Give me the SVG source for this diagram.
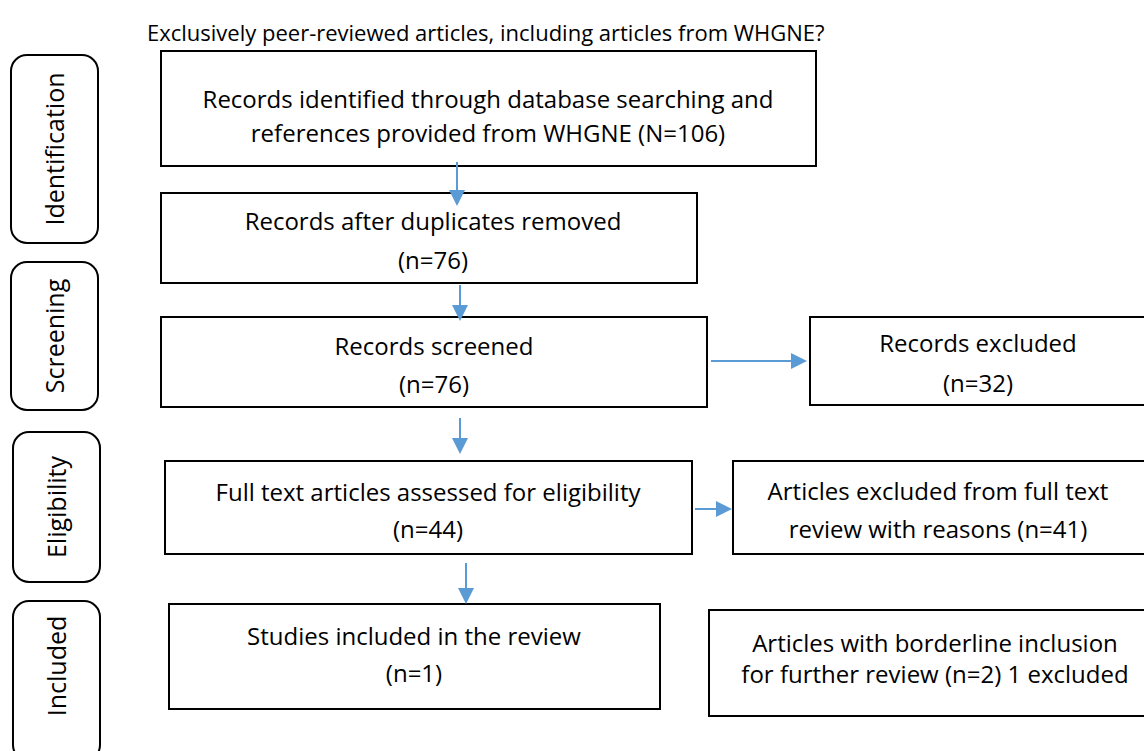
<svg xmlns="http://www.w3.org/2000/svg" width="1144" height="751" viewBox="0 0 1144 751">
<style>
.box{fill:#fff;stroke:#000;stroke-width:2}
.side{fill:#fff;stroke:#000;stroke-width:2}
.t{font-family:"Open Sans","DejaVu Sans",sans-serif;font-size:24px;fill:#000;text-anchor:middle}
.s{font-family:"Open Sans","DejaVu Sans",sans-serif;font-size:25px;fill:#000;text-anchor:middle}
.title{font-family:"Open Sans","DejaVu Sans",sans-serif;font-size:22px;fill:#000}
.c{stroke:#5B9BD5;stroke-width:2;fill:none;marker-end:url(#ah)}
</style>
<defs>
<marker id="ah" markerWidth="8" markerHeight="8" refX="7" refY="4" orient="auto" markerUnits="strokeWidth">
<path d="M0,0 L8,4 L0,8 Z" fill="#5B9BD5"/>
</marker>
</defs>
<rect width="1144" height="751" fill="#fff"/>
<text class="title" x="147" y="41">Exclusively peer-reviewed articles, including articles from WHGNE?</text>

<g id="side-identification"><rect class="side" x="11" y="55" width="87" height="188" rx="16"/><text class="s" transform="translate(64,149) rotate(-90)">Identification</text></g>
<g id="side-screening"><rect class="side" x="11" y="262" width="87" height="148" rx="16"/><text class="s" transform="translate(64,336) rotate(-90)">Screening</text></g>
<g id="side-eligibility"><rect class="side" x="13" y="432" width="87" height="150" rx="16"/><text class="s" transform="translate(66,507) rotate(-90)">Eligibility</text></g>
<g id="side-included"><rect class="side" x="13" y="601" width="87" height="160" rx="16"/><text class="s" transform="translate(66,666) rotate(-90)">Included</text></g>

<g id="n1"><rect class="box" x="161" y="51" width="655" height="115"/><text class="t" x="488" y="108">Records identified through database searching and</text><text class="t" x="488" y="142">references provided from WHGNE (N=106)</text></g>
<g id="n2"><rect class="box" x="161" y="193" width="536" height="90"/><text class="t" x="433" y="230">Records after duplicates removed</text><text class="t" x="433" y="269">(n=76)</text></g>
<g id="n3"><rect class="box" x="161" y="317" width="546" height="90"/><text class="t" x="434" y="355">Records screened</text><text class="t" x="434" y="393">(n=76)</text></g>
<g id="n3r"><rect class="box" x="810" y="317" width="340" height="88"/><text class="t" x="978" y="352">Records excluded</text><text class="t" x="978" y="392">(n=32)</text></g>
<g id="n4"><rect class="box" x="165" y="461" width="527" height="93"/><text class="t" x="428" y="501">Full text articles assessed for eligibility</text><text class="t" x="428" y="538">(n=44)</text></g>
<g id="n4r"><rect class="box" x="733" y="461" width="417" height="93"/><text class="t" x="938" y="500">Articles excluded from full text</text><text class="t" x="938" y="538">review with reasons (n=41)</text></g>
<g id="n5"><rect class="box" x="169" y="604" width="491" height="105"/><text class="t" x="414" y="645">Studies included in the review</text><text class="t" x="414" y="682">(n=1)</text></g>
<g id="n5r"><rect class="box" x="709" y="610" width="441" height="106"/><text class="t" x="935" y="652">Articles with borderline inclusion</text><text class="t" x="935" y="683">for further review (n=2) 1 excluded</text></g>

<g id="connectors">
<line class="c" x1="457" y1="162" x2="457" y2="204"/>
<line class="c" x1="460" y1="285" x2="460" y2="319"/>
<line class="c" x1="460" y1="418" x2="460" y2="452"/>
<line class="c" x1="466" y1="563" x2="466" y2="602"/>
<line class="c" x1="711" y1="361" x2="805" y2="361"/>
<line class="c" x1="695" y1="509" x2="730" y2="509"/>
</g>
</svg>
